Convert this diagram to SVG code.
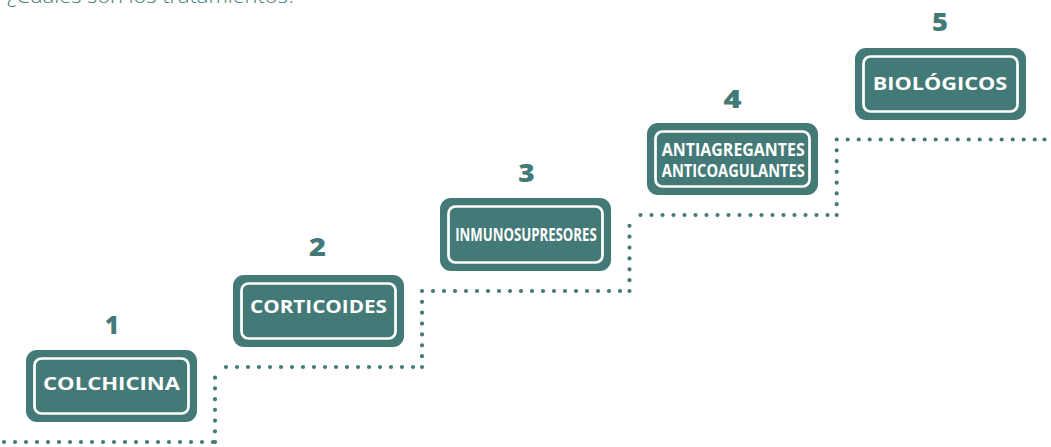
<svg xmlns="http://www.w3.org/2000/svg" width="1051" height="447" viewBox="0 0 1051 447">
  <style>
    .box{fill:#437a77}
    .inner{fill:none;stroke:#ffffff;stroke-width:2.7}
    .lbl{font-family:"Open Sans","Liberation Sans",sans-serif;font-weight:700;font-size:18px;fill:#ffffff;text-anchor:middle}
    .num{font-family:"Open Sans","Liberation Sans",sans-serif;font-weight:800;font-size:24px;fill:#437a77;text-anchor:middle}
    .h{fill:none;stroke:#437a77;stroke-width:4.2;stroke-linecap:round;stroke-dasharray:0 11}
    .v{fill:none;stroke:#437a77;stroke-width:4.2;stroke-linecap:round;stroke-dasharray:0 1}
    .dot{fill:#437a77}
    .title{font-family:"Open Sans","Liberation Sans",sans-serif;font-weight:300;font-size:20px;fill:#437a77}
  </style>
  <rect width="1051" height="447" fill="#ffffff"/>
  <text class="title" x="7" y="2.5" textLength="290" lengthAdjust="spacingAndGlyphs">¿Cuáles son los tratamientos?</text>

  <g id="connectors">
    <path class="h" d="M4 442H215"/>
    <path class="v" d="M215 442V367" pathLength="7"/>
    <path class="h" d="M226 367H422"/>
    <path class="v" d="M422 367V291" pathLength="7"/>
    <path class="h" d="M433 291H629.5"/>
    <path class="v" d="M629.5 291V215" pathLength="7"/>
    <path class="h" d="M640.5 215H836.7"/>
    <path class="v" d="M836.7 215V139.5" pathLength="7"/>
    <path class="h" d="M847.7 139.5H1040"/>
    <circle class="dot" cx="1044.5" cy="139.5" r="2.1"/>
  </g>

  <g id="node1">
    <text class="num" x="112" y="333.5">1</text>
    <rect class="box" x="26" y="350" width="171" height="72" rx="11"/>
    <rect class="inner" x="34.5" y="358.5" width="154" height="55" rx="7"/>
    <text class="lbl" x="111.5" y="390" textLength="137" lengthAdjust="spacingAndGlyphs">COLCHICINA</text>
  </g>
  <g id="node2">
    <text class="num" x="317.5" y="256" textLength="17" lengthAdjust="spacingAndGlyphs">2</text>
    <rect class="box" x="233" y="275" width="171" height="72" rx="11"/>
    <rect class="inner" x="241.5" y="283.5" width="154" height="55" rx="7"/>
    <text class="lbl" x="318.5" y="313.3" textLength="137" lengthAdjust="spacingAndGlyphs">CORTICOIDES</text>
  </g>
  <g id="node3">
    <text class="num" x="526.5" y="181.7" textLength="16.5" lengthAdjust="spacingAndGlyphs">3</text>
    <rect class="box" x="440" y="198" width="171" height="73" rx="11"/>
    <rect class="inner" x="448.5" y="206.5" width="154" height="56" rx="7"/>
    <text class="lbl" x="526" y="240.7" textLength="141.5" lengthAdjust="spacingAndGlyphs">INMUNOSUPRESORES</text>
  </g>
  <g id="node4">
    <text class="num" x="732.5" y="108.3" textLength="18" lengthAdjust="spacingAndGlyphs">4</text>
    <rect class="box" x="647" y="123" width="171" height="72" rx="11"/>
    <rect class="inner" x="655.5" y="131.5" width="154" height="55" rx="7"/>
    <text class="lbl" x="733.3" y="156" textLength="143" lengthAdjust="spacingAndGlyphs">ANTIAGREGANTES</text>
    <text class="lbl" x="733.3" y="176.7" textLength="143" lengthAdjust="spacingAndGlyphs">ANTICOAGULANTES</text>
  </g>
  <g id="node5">
    <text class="num" x="940" y="30.7" textLength="16" lengthAdjust="spacingAndGlyphs">5</text>
    <rect class="box" x="855" y="48" width="171" height="72" rx="11"/>
    <rect class="inner" x="863.5" y="56.5" width="154" height="55" rx="7"/>
    <text class="lbl" x="940" y="89.5" textLength="134.5" lengthAdjust="spacingAndGlyphs">BIOLÓGICOS</text>
  </g>
</svg>
